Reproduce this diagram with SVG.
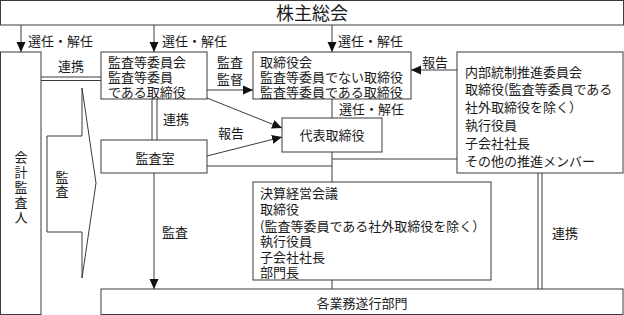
<svg xmlns="http://www.w3.org/2000/svg" width="624" height="315" viewBox="0 0 624 315">
<defs>
<style>
.box{fill:#fff;stroke:#3a3a3a;stroke-width:1}
.ln{fill:none;stroke:#3a3a3a;stroke-width:1}
text{font-family:"Noto Sans CJK JP","Noto Sans CJK SC",sans-serif;font-size:13px;fill:#1a1a1a}
.c{text-anchor:middle}
.v{writing-mode:vertical-rl;text-orientation:upright}
</style>
<marker id="ah" viewBox="0 0 10 10" refX="10" refY="5" markerWidth="10" markerHeight="10" markerUnits="userSpaceOnUse" orient="auto">
<path d="M0,0.5 L10,5 L0,9.5 Z" fill="#111"/>
</marker>
</defs>
<rect width="624" height="315" fill="#fff"/>

<g id="connectors">
<line class="ln" x1="21" y1="25" x2="21" y2="52" marker-end="url(#ah)"/>
<line class="ln" x1="154" y1="25" x2="154" y2="52" marker-end="url(#ah)"/>
<line class="ln" x1="332" y1="25" x2="332" y2="52" marker-end="url(#ah)"/>
<line class="ln" x1="41" y1="77" x2="101" y2="77"/>
<line class="ln" x1="41" y1="80.5" x2="101" y2="80.5"/>
<line class="ln" x1="207" y1="90" x2="253" y2="90" marker-end="url(#ah)"/>
<line class="ln" x1="457" y1="70" x2="411" y2="70" marker-end="url(#ah)"/>
<line class="ln" x1="152" y1="99" x2="152" y2="140"/>
<line class="ln" x1="157" y1="99" x2="157" y2="140"/>
<line class="ln" x1="207" y1="98" x2="282" y2="128" marker-end="url(#ah)"/>
<line class="ln" x1="207" y1="156" x2="282" y2="137" marker-end="url(#ah)"/>
<line class="ln" x1="207" y1="166" x2="332" y2="166"/>
<line class="ln" x1="332" y1="99" x2="332" y2="118"/>
<line class="ln" x1="332" y1="152" x2="332" y2="182"/>
<line class="ln" x1="332" y1="280" x2="332" y2="289"/>
<line class="ln" x1="332" y1="159" x2="457" y2="159"/>
<line class="ln" x1="154" y1="173" x2="154" y2="289" marker-end="url(#ah)"/>
<line class="ln" x1="538" y1="173" x2="538" y2="289"/>
<line class="ln" x1="542" y1="173" x2="542" y2="289"/>
<polygon class="ln" points="47,136 82,136 82,88 96,183 82,278 82,232 47,232"/>
<text x="28" y="45.5">選任・解任</text>
<text x="162" y="45.5">選任・解任</text>
<text x="338" y="45.5">選任・解任</text>
<text x="58" y="70.5">連携</text>
<text x="217" y="66.5">監査</text>
<text x="217" y="83.5">監督</text>
<text x="422" y="66.5">報告</text>
<text x="163" y="123.5">連携</text>
<text x="218" y="137.5">報告</text>
<text x="339" y="113.5">選任・解任</text>
<text x="162" y="236.5">監査</text>
<text x="552" y="237.5">連携</text>
<text class="v" x="62" y="170.5" style="letter-spacing:1px">監査</text>
</g>

<g id="shareholders">
<rect class="box" x="0.5" y="0.5" width="623" height="24.5"/>
<text class="c" x="312" y="20" style="font-size:18px">株主総会</text>
</g>

<g id="auditor">
<rect class="box" x="0.5" y="52" width="40.5" height="262.5"/>
<text class="v" x="21" y="150.5" style="letter-spacing:2px">会計監査人</text>
</g>

<g id="audit-committee">
<rect class="box" x="101" y="52" width="106" height="47"/>
<text x="108" y="66.5">監査等委員会</text>
<text x="108" y="81.5">監査等委員</text>
<text x="108" y="97">である取締役</text>
</g>

<g id="board">
<rect class="box" x="253" y="52" width="158" height="47"/>
<text x="260" y="66.5">取締役会</text>
<text x="260" y="81.5">監査等委員でない取締役</text>
<text x="260" y="97">監査等委員である取締役</text>
</g>

<g id="internal-control">
<rect class="box" x="457" y="52" width="166" height="121"/>
<text x="465" y="76.5">内部統制推進委員会</text>
<text x="465" y="93.5">取締役(監査等委員である</text>
<text x="465" y="111.5">社外取締役を除く）</text>
<text x="465" y="129.5">執行役員</text>
<text x="465" y="147.5">子会社社長</text>
<text x="465" y="165.5">その他の推進メンバー</text>
</g>

<g id="audit-office">
<rect class="box" x="101" y="140" width="106" height="33"/>
<text class="c" x="155" y="162.5">監査室</text>
</g>

<g id="representative">
<rect class="box" x="282" y="118" width="100" height="34"/>
<text class="c" x="332" y="139.5">代表取締役</text>
</g>

<g id="settlement-meeting">
<rect class="box" x="253" y="182" width="238" height="98"/>
<text x="260" y="197.5">決算経営会議</text>
<text x="260" y="213.5">取締役</text>
<text x="260" y="230.5">(監査等委員である社外取締役を除く）</text>
<text x="260" y="245.5">執行役員</text>
<text x="260" y="261.5">子会社社長</text>
<text x="260" y="276.5">部門長</text>
</g>

<g id="business-units">
<rect class="box" x="101" y="289" width="522" height="25.5"/>
<text class="c" x="362" y="307.5">各業務遂行部門</text>
</g>
</svg>
